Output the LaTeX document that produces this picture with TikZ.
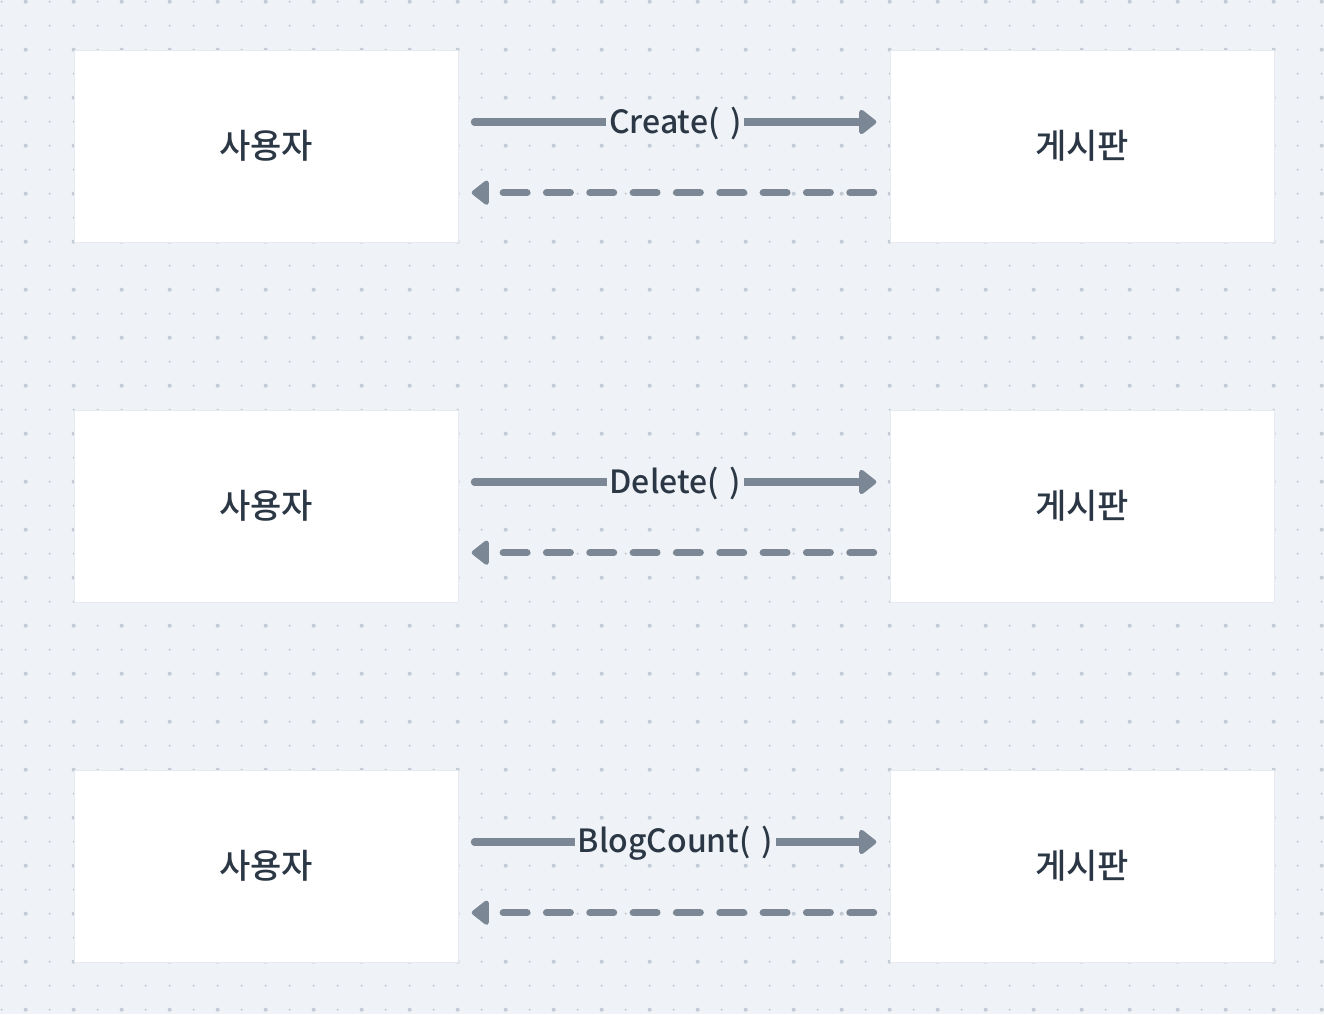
\documentclass[tikz,border=0pt]{standalone}
\usepackage{fontspec}
\setmainfont{Noto Sans CJK KR}
\newfontfamily\medfont{Noto Sans CJK KR Medium}
\usetikzlibrary{arrows.meta}
\definecolor{bgc}{HTML}{EFF2F6}
\definecolor{dotc}{HTML}{C3CBD4}
\definecolor{linec}{HTML}{7B8794}
\definecolor{txtc}{HTML}{2B3745}
\definecolor{edgec}{HTML}{E7EBEF}
\tikzset{
  box/.style={draw=edgec, line width=0.6pt, fill=white, minimum width=288pt, minimum height=144pt, inner sep=0pt, text=txtc, font=\medfont\fontsize{25.5}{30}\selectfont},
  msg/.style={line width=5.4pt, color=linec, line cap=round, -{Triangle[length=14pt,width=21pt,round]}},
  ret/.style={msg, dash pattern=on 17.8pt off 14.7pt},
  lbl/.style={fill=bgc, inner xsep=2pt, inner ysep=1pt, text=txtc, font=\medfont\fontsize{24}{28}\selectfont}
}
\begin{document}
\begin{tikzpicture}[x=0.75pt,y=-0.75pt]
\fill[bgc] (0,0) rectangle (1324,1014);
\useasboundingbox (0,0) rectangle (1324,1014);
\foreach \i in {0,...,55} {
  \foreach \j in {0,...,42} {
    \fill[dotc] (1.7+24*\i,1.7+24*\j) circle (0.9pt);
  }
}
\foreach \i in {0,...,27} {
  \foreach \j in {0,...,21} {
    \fill[dotc] (25.7+48*\i,1.7+48*\j) circle (1.5pt);
  }
}
\foreach \r/\y/\lab in {1/146/{Create(\,\,)},2/506/{Delete(\,\,)},3/866/{BlogCount(\,\,)}} {
  \node[box] (u\r) at (266,\y) {사용자};
  \node[box] (b\r) at (1082,\y) {게시판};
  \coordinate (s\r) at ([xshift=12pt,yshift=18pt]u\r.east);
  \coordinate (t\r) at ([xshift=-10pt,yshift=18pt]b\r.west);
  \coordinate (rs\r) at ([xshift=-12pt,yshift=-35pt]b\r.west);
  \coordinate (rt\r) at ([xshift=10pt,yshift=-35pt]u\r.east);
  \draw[msg] (s\r) -- node[lbl, yshift=-1pt] (l\r) {\lab} (t\r);
  \draw[ret] (rs\r) -- (rt\r);
}
\end{tikzpicture}
\end{document}
